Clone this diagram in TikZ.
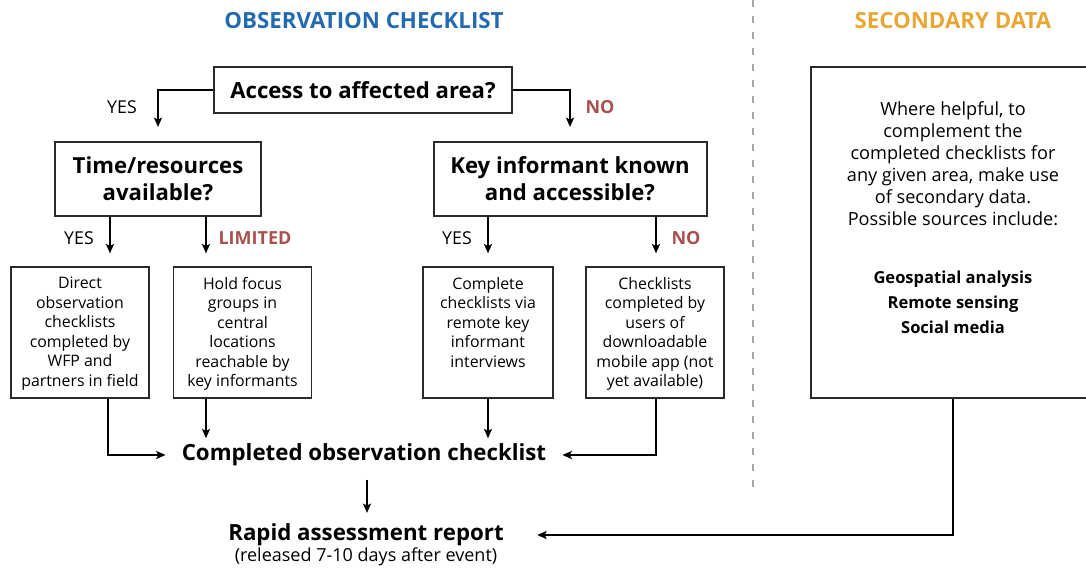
\documentclass[tikz,border=0pt]{standalone}
\usepackage{fontspec}
\setmainfont{Open Sans}
\usepackage{tikz}
\usetikzlibrary{arrows.meta}
\usetikzlibrary{positioning}
\definecolor{obsblue}{HTML}{236AB0}
\definecolor{secorange}{HTML}{E8A735}
\definecolor{answerred}{HTML}{A8504E}
\definecolor{boxgray}{HTML}{2B2B2B}
\tikzset{qbox/.style={draw=boxgray, line width=1.5pt, align=center, inner sep=0pt, font=\fontsize{16.6}{20.2}\selectfont\bfseries}}
\tikzset{optbox/.style={draw=boxgray, line width=1.2pt, inner sep=0pt, font=\fontsize{11.9}{14.6}\selectfont}}
\tikzset{arr/.style={draw=black, line width=1.2pt, -{Stealth[length=7pt,width=6pt,inset=1.5pt]}}}
\tikzset{yeslabel/.style={font=\fontsize{13.3}{15}\selectfont}}
\tikzset{nolabel/.style={font=\fontsize{13.5}{15}\selectfont\bfseries, text=answerred}}
\tikzset{heading/.style={font=\fontsize{16.7}{19}\selectfont\bfseries}}
\newcommand{\opttext}[2][103.5pt]{\parbox[c][98pt][t]{#1}{\centering\vspace{7.5pt}#2}}

\begin{document}
\begin{tikzpicture}[x=0.75pt,y=-0.75pt]
\useasboundingbox (0,0) rectangle (1086,570);
% titles
\node[heading, text=obsblue] (obstitle) at (364,21) {OBSERVATION CHECKLIST};
\node[heading, text=secorange] (sectitle) at (953,21) {SECONDARY DATA};
\draw[gray!70, line width=0.8pt, dash pattern=on 5.5pt off 6.5pt] (753,0) -- (753,490);

% questions
\node[qbox, minimum width=223.5pt, minimum height=34.5pt] (access) at (363,90) {Access to affected area?};
\node[qbox, minimum width=154.5pt, minimum height=55.5pt] (time) at (158,179) {Time/resources\\available?};
\node[qbox, minimum width=204.75pt, minimum height=55.5pt] (keyinf) at (570,179) {Key informant known\\and accessible?};

% options
\node[optbox] (direct) at (80,332.5) {\opttext{Direct\\observation\\checklists\\completed by\\WFP and\\partners in field}};
\node[optbox] (focus) at (242.5,332.5) {\opttext{Hold focus\\groups in\\central\\locations\\reachable by\\key informants}};
\node[optbox] (remote) at (488,332.5) {\opttext[97.5pt]{Complete\\checklists via\\remote key\\informant\\interviews}};
\node[optbox] (mobile) at (655,332.5) {\opttext{Checklists\\completed by\\users of\\downloadable\\mobile app (not\\yet available)}};

\node[heading, inner sep=0pt] (done) at (364,455) {Completed observation checklist};
\node[heading, inner sep=0pt] (report) at (366,535) {Rapid assessment report};
\node[font=\fontsize{13.5}{15}\selectfont, inner sep=0pt] (reportsub) at (366,557) {(released 7-10 days after event)};

\node[optbox] (secondary) at (953,232.5) {\parbox[c][248pt][t]{213pt}{\centering\vspace{25.5pt}%
\fontsize{13.6}{16.5}\selectfont Where helpful, to\\complement the\\completed checklists for\\any given area, make use\\of secondary data.\\Possible sources include:\\[27pt]
\fontsize{12.4}{16.5}\selectfont\bfseries Geospatial analysis\\[2.3pt] Remote sensing\\[2.3pt] Social media}};

% answers
\node[yeslabel] (yes1) at (122,107) {YES};
\node[nolabel] (no1) at (600,107) {NO};
\node[yeslabel] (yes2) at (79,238) {YES};
\node[nolabel] (limited) at (255,238) {LIMITED};
\node[yeslabel] (yes3) at (457,238) {YES};
\node[nolabel] (no2) at (686,238) {NO};

% connectors
\draw[arr, shorten >=10.5pt] (access.west) -| (time.north);
\draw[arr, shorten >=10.5pt] (access.east) -| (keyinf.north);
\draw[arr, shorten >=9.75pt] (time.south -| 110,0) -- (direct.north -| 110,0);
\draw[arr, shorten >=9.75pt] (time.south -| 206,0) -- (focus.north -| 206,0);
\draw[arr, shorten >=9.75pt] (keyinf.south -| 488,0) -- (remote.north);
\draw[arr, shorten >=9.75pt] (keyinf.south -| 656,0) -- (mobile.north -| 656,0);
\draw[arr, shorten >=12pt] (direct.south -| 108,0) |- (done.west);
\draw[arr, shorten >=4pt] (focus.south -| 206,0) -- (done.north -| 206,0);
\draw[arr, shorten >=4pt] (remote.south) -- (done.north -| remote.south);
\draw[arr, shorten >=12pt] (mobile.south -| 656,0) |- (done.east);
\draw[arr, shorten <=10pt, shorten >=8pt] (done.south -| 367,0) -- (report.north -| 367,0);
\draw[arr, shorten >=25pt] (secondary.south) |- (report.east);
\end{tikzpicture}
\end{document}
